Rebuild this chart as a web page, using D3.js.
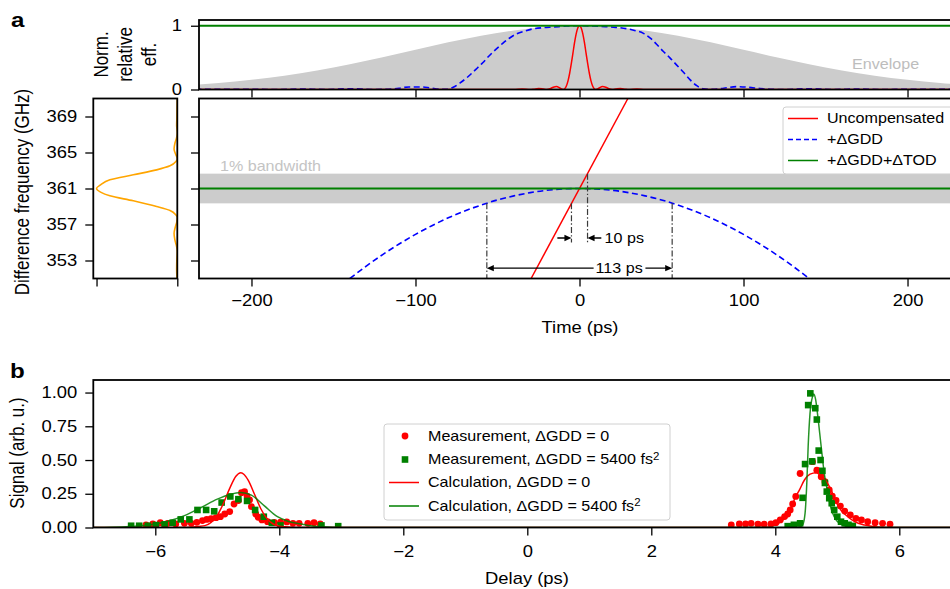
<!DOCTYPE html>
<html><head><meta charset="utf-8">
<script src="https://cdn.jsdelivr.net/npm/d3@7"></script>
<style>body{margin:0;background:#fff}svg{display:block;font-family:"Liberation Sans",Arial,Helvetica,sans-serif}</style>
</head><body><svg id="c" width="950" height="589"></svg>
<script>
// ---------------- DATA ----------------
// Panel a (top): normalized relative efficiency vs time (ps)
const envT = [-240,-220,-200,-180,-160,-140,-120,-100,-80,-60,-40,-20,0,20,40,60,80,100,120,140,160,180,200,220,240];
const envV = [0.066,0.102,0.152,0.217,0.299,0.397,0.507,0.624,0.740,0.844,0.927,0.981,1,0.981,0.927,0.844,0.740,0.624,0.507,0.397,0.299,0.217,0.152,0.102,0.066];
const redTopT = [-240,-40,-35,-30,-28,-25,-22,-20,-18,-16,-14,-12,-10,-9,-8,-7,-6,-5,-4,-3,-2,-1,0,1,2,3,4,5,6,7,8,9,10,12,14,16,18,20,22,25,28,30,35,40,240];
const redTopV = [0,0,0.008,0,0.0045,0.016,0.007,0,0.011,0.036,0.047,0.024,0,0.012,0.055,0.135,0.255,0.405,0.57,0.738,0.876,0.968,1,0.968,0.876,0.738,0.57,0.405,0.255,0.135,0.055,0.012,0,0.024,0.047,0.036,0.011,0,0.007,0.016,0.0045,0,0.008,0,0];
const blueTopT = [-240,-200,-185,-170,-155,-140,-125,-118,-110,-104,-97,-91,-85,-81,-77,-73,-68,-63,-59,-55,-51,-47,-43,-38.6,-33,-28.5,-22,-16,-8,0,8,16,22,28.5,33,39,43,47,51,55,59,63.4,67.5,71.5,75.6,81,88,95.5,103,110,118,125,140,155,170,185,200,240];
const blueTopV = [0,0.004,0,0.008,0,0.012,0,0.003,0.02,0.04,0.04,0.025,0.005,0.003,0.035,0.1,0.2,0.32,0.42,0.53,0.63,0.72,0.8,0.87,0.92,0.95,0.97,0.98,0.995,1,0.995,0.985,0.975,0.955,0.93,0.88,0.81,0.71,0.6,0.5,0.39,0.27,0.15,0.06,0.01,0.002,0.02,0.045,0.035,0.015,0.002,0,0.012,0,0.008,0,0.004,0];
const topYTicks = [0, 1];
const timeTicks = [-200, -100, 0, 100, 200];

// Panel a (main): difference frequency (GHz) vs time (ps)
const freqTicks = [353, 357, 361, 365, 369];
const uncompT = [-29.5, 29.5];
const uncompF = [351, 371];
const gddT = [-140,-130,-120,-110,-100,-90,-80,-70,-60,-50,-40,-30,-20,-10,0,10,20,30,40,50,60,70,80,90,100,110,120,130,140];
const gddF = [351.0,352.38,353.66,354.83,355.9,356.87,357.74,358.5,359.16,359.73,360.18,360.54,360.8,360.95,361,360.95,360.8,360.54,360.18,359.73,359.16,358.5,357.74,356.87,355.9,354.83,353.66,352.38,351.0];
const todT = [-240, 240];
const todF = [361, 361];
const bandF = [359.35, 362.65];
const shortMarkT = [-4.9, 4.9];
const longMarkT = [-56.5, 56.5];

// Panel a (left): spectrum (normalized) vs frequency (GHz)
const specF = [351,352,353,354,354.6,355.3,356,356.7,357.3,357.8,358.07,358.56,359.0,359.63,360.19,360.6,361,361.4,361.96,362.52,363.07,363.52,364.0,364.3,364.8,365.4,366.0,366.6,367.2,368,369,370,371];
const specV = [0.004,0.008,0.006,0,0.01,0.03,0.04,0.025,0.006,0,0.017,0.09,0.256,0.545,0.835,0.95,1,0.95,0.835,0.545,0.256,0.09,0.017,0,0.02,0.04,0.03,0.01,0,0.008,0.005,0.003,0];

// Panel b: signal vs delay (ps)
const measRedD = [-6.15,-6.04,-5.92,-5.8,-5.67,-5.53,-5.42,-5.33,-5.24,-5.17,-5.10,-5.02,-4.95,-4.88,-4.80,-4.73,-4.66,-4.61,-4.56,-4.52,-4.48,-4.45,-4.38,-4.34,-4.28,-4.19,-4.08,-3.98,-3.88,-3.78,-3.68,-3.54,-3.44,-3.34,
  3.29,3.42,3.52,3.61,3.72,3.82,3.93,4.01,4.08,4.15,4.20,4.24,4.28,4.33,4.40,4.60,4.67,4.74,4.80,4.87,4.92,4.98,5.05,5.12,5.21,5.30,5.39,5.49,5.61,5.73,5.85];
const measRedV = [0.02,0.026,0.036,0.031,0.026,0.031,0.031,0.038,0.051,0.06,0.065,0.073,0.08,0.1,0.118,0.174,0.2,0.258,0.265,0.233,0.204,0.154,0.1,0.076,0.056,0.043,0.038,0.04,0.041,0.031,0.031,0.031,0.036,0.026,
  0.019,0.026,0.026,0.031,0.024,0.024,0.026,0.036,0.056,0.081,0.1,0.13,0.174,0.23,0.40,0.488,0.425,0.376,0.339,0.278,0.233,0.2,0.159,0.122,0.093,0.068,0.056,0.043,0.036,0.031,0.024];
const measGreenD = [-6.39,-6.26,-6.12,-5.99,-5.85,-5.72,-5.59,-5.45,-5.32,-5.18,-5.05,-4.93,-4.79,-4.66,-4.52,-4.39,-4.25,-4.12,-3.98,-3.32,-3.05,
  4.2,4.3,4.40,4.44,4.48,4.53,4.565,4.595,4.645,4.67,4.70,4.73,4.76,4.80,4.83,4.87,4.91,4.95,5.0,5.06,5.12,5.18,5.25];
const measGreenV = [0.013,0.013,0.013,0.018,0.023,0.035,0.06,0.06,0.13,0.13,0.12,0.185,0.23,0.21,0.197,0.13,0.08,0.035,0.015,0.015,0.01,
  0.01,0.02,0.031,0.22,0.47,0.907,0.994,0.49,0.884,0.8,0.57,0.5,0.42,0.33,0.266,0.217,0.18,0.13,0.08,0.043,0.031,0.02,0.012];
const calcRedD = [-7,-5.6,-5.4,-5.3,-5.2,-5.1,-5.0,-4.9,-4.8,-4.7,-4.62,-4.5,-4.4,-4.3,-4.2,-4.1,-4.0,-3.9,-3.8,-3.6,
  3.8,3.99,4.09,4.17,4.25,4.33,4.39,4.47,4.56,4.66,4.72,4.79,4.9,4.98,5.06,5.17,5.28,5.44,5.6,5.8,7];
const calcRedV = [0,0,0.004,0.008,0.014,0.038,0.09,0.18,0.29,0.38,0.406,0.35,0.246,0.141,0.066,0.026,0.01,0.005,0.002,0,
  0,0.018,0.043,0.081,0.143,0.23,0.279,0.352,0.395,0.406,0.39,0.364,0.278,0.19,0.128,0.08,0.043,0.018,0.006,0,0];
const calcGreenD = [-7,-6.7,-6.4,-6.07,-5.8,-5.53,-5.26,-5.0,-4.8,-4.62,-4.45,-4.24,-4.03,-3.85,-3.7,-3.53,-3.3,-3.0,
  4.3,4.40,4.44,4.48,4.51,4.53,4.56,4.6,4.62,4.65,4.68,4.74,4.79,4.85,4.9,4.95,5.03,5.11,5.25,5.4,7];
const calcGreenV = [0,0.002,0.008,0.02,0.046,0.088,0.148,0.21,0.245,0.26,0.24,0.16,0.08,0.045,0.03,0.015,0.005,0,
  0,0.005,0.018,0.105,0.35,0.6,0.846,0.97,0.99,0.95,0.846,0.6,0.4,0.252,0.141,0.08,0.031,0.013,0.003,0,0];
const delayTicks = [-6, -4, -2, 0, 2, 4, 6];
const signalTicks = [0, 0.25, 0.5, 0.75, 1.0];

// ---------------- DRAWING ----------------
const svg = d3.select('#c');
const FS = 16;    // tick / axis label size
const FL = 14;    // legend / annotation size
const SX = 1.15;  // horizontal stretch of the reference lettering
const zip = (a, b) => a.map((v, i) => [v, b[i]]);

const xT = d3.scaleLinear().domain([-232, 232]).range([199, 960]);
const yTop = d3.scaleLinear().domain([0, 1.09]).range([89.5, 20]);
const yF = d3.scaleLinear().domain([351, 371]).range([278.5, 98.5]);
const xS = d3.scaleLinear().domain([0, 1.04]).range([177.3, 93.3]);
const xD = d3.scaleLinear().domain([-7, 7]).range([93.3, 961.3]);
const yS = d3.scaleLinear().domain([0, 1.093]).range([527.5, 380]);

const defs = svg.append('defs');
function clip(id, x0, y0, x1, y1) {
  defs.append('clipPath').attr('id', id).append('rect')
    .attr('x', x0).attr('y', y0).attr('width', x1 - x0).attr('height', y1 - y0);
  return svg.append('g').attr('clip-path', `url(#${id})`);
}
function spine(x0, y0, x1, y1) {
  svg.append('rect').attr('x', x0).attr('y', y0).attr('width', x1 - x0).attr('height', y1 - y0)
    .attr('fill', 'none').attr('stroke', '#000').attr('stroke-width', 1.8);
}
function styleAxis(g) {
  g.select('.domain').remove();
  g.selectAll('line').attr('stroke', '#000').attr('stroke-width', 1.3);
  g.selectAll('text').attr('font-size', FS).attr('fill', '#000')
    .attr('font-family', '"Liberation Sans", Arial, sans-serif');
}
function rotLabel(x, y, size, txt) {
  svg.append('text').attr('class', 'rot').attr('transform', `translate(${x},${y}) scale(${SX},1) rotate(-90)`)
    .attr('text-anchor', 'middle').attr('font-size', size).text(txt);
}

// ---- top panel ----
const gTop = clip('cTop', 199, 20, 960, 89.5);
gTop.append('path').datum(zip(envT, envV))
  .attr('d', d3.area().x(d => xT(d[0])).y0(yTop(0)).y1(d => yTop(d[1])).curve(d3.curveMonotoneX))
  .attr('fill', '#cccccc');
gTop.append('text').attr('x', 852).attr('y', 69).attr('font-size', FL).attr('fill', '#bdbdbd').text('Envelope');
gTop.append('path').datum(zip(blueTopT, blueTopV))
  .attr('d', d3.line().x(d => xT(d[0])).y(d => yTop(d[1])).curve(d3.curveMonotoneX))
  .attr('fill', 'none').attr('stroke', '#0000ff').attr('stroke-width', 1.6).attr('stroke-dasharray', '6,3.5');
gTop.append('path').datum(zip(redTopT, redTopV))
  .attr('d', d3.line().x(d => xT(d[0])).y(d => yTop(d[1])).curve(d3.curveMonotoneX))
  .attr('fill', 'none').attr('stroke', '#ff0000').attr('stroke-width', 1.5);
gTop.append('path').datum(zip(todT, [1, 1]))
  .attr('d', d3.line().x(d => xT(d[0])).y(d => yTop(d[1])))
  .attr('fill', 'none').attr('stroke', '#008000').attr('stroke-width', 1.8);
spine(199, 20, 962, 89.5);
svg.append('g').attr('transform', 'translate(199,0)')
  .call(d3.axisLeft(yTop).tickValues(topYTicks).tickFormat(d3.format('d')).tickSize(8).tickPadding(9)).call(styleAxis);
svg.append('g').attr('transform', 'translate(0,89.5)')
  .call(d3.axisBottom(xT).tickValues(timeTicks).tickFormat('').tickSize(8)).call(styleAxis);
[['Norm.', 108.3], ['relative', 132], ['eff.', 155.5]].forEach(r => rotLabel(r[1], 54.5, 17, r[0]));

// ---- main panel a ----
const gMain = clip('cMain', 199, 98.5, 960, 278.5);
gMain.append('rect').attr('x', 199).attr('width', 761)
  .attr('y', yF(bandF[1])).attr('height', yF(bandF[0]) - yF(bandF[1])).attr('fill', '#cccccc');
gMain.append('text').attr('x', 220).attr('y', 171).attr('font-size', FL).attr('fill', '#c4c4c4').text('1% bandwidth');
gMain.append('path').datum(zip(gddT, gddF))
  .attr('d', d3.line().x(d => xT(d[0])).y(d => yF(d[1])).curve(d3.curveMonotoneX))
  .attr('fill', 'none').attr('stroke', '#0000ff').attr('stroke-width', 1.6).attr('stroke-dasharray', '6,3.5');
gMain.append('path').datum(zip(uncompT, uncompF))
  .attr('d', d3.line().x(d => xT(d[0])).y(d => yF(d[1])))
  .attr('fill', 'none').attr('stroke', '#ff0000').attr('stroke-width', 1.5);
gMain.append('path').datum(zip(todT, todF))
  .attr('d', d3.line().x(d => xT(d[0])).y(d => yF(d[1])))
  .attr('fill', 'none').attr('stroke', '#008000').attr('stroke-width', 1.8);
// dash-dot markers
const dd = '6,2.2,1.4,2.2';
function vline(t, f0, f1) {
  gMain.append('line').attr('x1', xT(t)).attr('x2', xT(t)).attr('y1', yF(f0)).attr('y2', yF(f1))
    .attr('stroke', '#3a3a3a').attr('stroke-width', 1.2).attr('stroke-dasharray', dd);
}
vline(shortMarkT[0], bandF[0], 355.0);
vline(shortMarkT[1], bandF[1], 355.0);
vline(longMarkT[0], bandF[0], 351);
vline(longMarkT[1], bandF[0], 351);
function arrow(tFrom, tTo, f) {
  const x1 = xT(tFrom), x2 = xT(tTo), y = yF(f), s = Math.sign(x2 - x1);
  gMain.append('line').attr('x1', x1).attr('x2', x2 - s * 5).attr('y1', y).attr('y2', y)
    .attr('stroke', '#000').attr('stroke-width', 1.3);
  gMain.append('path').attr('d', `M${x2},${y}L${x2 - s * 7},${y - 3.2}L${x2 - s * 7},${y + 3.2}Z`).attr('fill', '#000');
}
arrow(-13.5, shortMarkT[0], 355.5);
arrow(13.3, shortMarkT[1], 355.5);
gMain.append('text').attr('x', xT(15.3)).attr('y', yF(355.5)).attr('dy', '0.35em').attr('font-size', FL).text('10 ps');
arrow(8.6, longMarkT[0], 352.15);
arrow(40.2, longMarkT[1], 352.15);
gMain.append('text').attr('x', xT(24.2)).attr('y', yF(352.15)).attr('dy', '0.35em').attr('text-anchor', 'middle').attr('font-size', FL).text('113 ps');
// legend a
const la = gMain.append('g');
la.append('rect').attr('x', 783).attr('y', 107).attr('width', 220).attr('height', 67).attr('rx', 3)
  .attr('fill', '#fff').attr('fill-opacity', 0.8).attr('stroke', '#d0d0d0').attr('stroke-width', 1);
[['Uncompensated', '#ff0000', null, 118.5], ['+ΔGDD', '#0000ff', '5,3', 139.5], ['+ΔGDD+ΔTOD', '#008000', null, 160.5]].forEach(r => {
  la.append('line').attr('x1', 788).attr('x2', 818).attr('y1', r[3]).attr('y2', r[3]).attr('stroke', r[1])
    .attr('stroke-width', 1.6).attr('stroke-dasharray', r[2]);
  la.append('text').attr('x', 827).attr('y', r[3]).attr('dy', '0.35em').attr('font-size', FL).text(r[0]);
});
spine(199, 98.5, 962, 278.5);
svg.append('g').attr('transform', 'translate(199,0)')
  .call(d3.axisLeft(yF).tickValues(freqTicks).tickFormat('').tickSize(8)).call(styleAxis);
svg.append('g').attr('transform', 'translate(0,278.5)')
  .call(d3.axisBottom(xT).tickValues(timeTicks).tickFormat(d3.format('d')).tickSize(8).tickPadding(8)).call(styleAxis);
svg.append('text').attr('x', 580).attr('y', 333).attr('text-anchor', 'middle').attr('font-size', FS).text('Time (ps)');

// ---- left spectrum panel ----
const gL = clip('cL', 93.3, 98.5, 177.3, 278.5);
gL.append('path').datum(zip(specV, specF))
  .attr('d', d3.line().x(d => xS(d[0])).y(d => yF(d[1])).curve(d3.curveMonotoneY))
  .attr('fill', 'none').attr('stroke', '#ffa500').attr('stroke-width', 1.6);
spine(93.3, 98.5, 177.3, 278.5);
svg.append('g').attr('transform', 'translate(93.3,0)')
  .call(d3.axisLeft(yF).tickValues(freqTicks).tickFormat(d3.format('d')).tickSize(8).tickPadding(8)).call(styleAxis);
svg.append('g').attr('transform', 'translate(0,278.5)')
  .call(d3.axisBottom(xS).tickValues([0, 1]).tickFormat('').tickSize(8)).call(styleAxis);
rotLabel(29, 192, 17, 'Difference frequency (GHz)');

// ---- panel b ----
const gB = clip('cB', 93.3, 380, 961.3, 527.5);
gB.selectAll('circle').data(zip(measRedD, measRedV)).join('circle')
  .attr('cx', d => xD(d[0])).attr('cy', d => yS(d[1])).attr('r', 3.4).attr('fill', '#ff0000');
gB.selectAll('rect.sq').data(zip(measGreenD, measGreenV)).join('rect').attr('class', 'sq')
  .attr('x', d => xD(d[0]) - 3.3).attr('y', d => yS(d[1]) - 3.3).attr('width', 6.6).attr('height', 6.6).attr('fill', '#008000');
gB.append('path').datum(zip(calcRedD, calcRedV))
  .attr('d', d3.line().x(d => xD(d[0])).y(d => yS(d[1])).curve(d3.curveMonotoneX))
  .attr('fill', 'none').attr('stroke', '#ff0000').attr('stroke-width', 1.5);
gB.append('path').datum(zip(calcGreenD, calcGreenV))
  .attr('d', d3.line().x(d => xD(d[0])).y(d => yS(d[1])).curve(d3.curveMonotoneX))
  .attr('fill', 'none').attr('stroke', '#008000').attr('stroke-width', 1.5).attr('stroke-opacity', 0.85);
// legend b
const lb = svg.append('g');
lb.append('rect').attr('x', 384).attr('y', 424).attr('width', 286).attr('height', 96).attr('rx', 3)
  .attr('fill', '#fff').attr('fill-opacity', 0.8).attr('stroke', '#d0d0d0').attr('stroke-width', 1);
const rowsB = [436, 459.5, 482.5, 506];
lb.append('circle').attr('cx', 405).attr('cy', rowsB[0]).attr('r', 3.4).attr('fill', '#ff0000');
lb.append('rect').attr('x', 401.7).attr('y', rowsB[1] - 3.3).attr('width', 6.6).attr('height', 6.6).attr('fill', '#008000');
lb.append('line').attr('x1', 389).attr('x2', 419).attr('y1', rowsB[2]).attr('y2', rowsB[2]).attr('stroke', '#ff0000').attr('stroke-width', 1.5);
lb.append('line').attr('x1', 389).attr('x2', 419).attr('y1', rowsB[3]).attr('y2', rowsB[3]).attr('stroke', '#008000').attr('stroke-width', 1.5);
const labB = [['Measurement, ΔGDD = 0', false], ['Measurement, ΔGDD = 5400 fs', true], ['Calculation, ΔGDD = 0', false], ['Calculation, ΔGDD = 5400 fs', true]];
labB.forEach((l, i) => {
  const t = lb.append('text').attr('x', 428).attr('y', rowsB[i]).attr('dy', '0.35em').attr('font-size', FL).text(l[0]);
  if (l[1]) t.append('tspan').attr('dy', '-0.45em').attr('font-size', 10).text('2');
});
spine(93.3, 380, 962, 527.5);
svg.append('g').attr('transform', 'translate(93.3,0)')
  .call(d3.axisLeft(yS).tickValues(signalTicks).tickFormat(d3.format('.2f')).tickSize(8).tickPadding(8)).call(styleAxis);
svg.append('g').attr('transform', 'translate(0,527.5)')
  .call(d3.axisBottom(xD).tickValues(delayTicks).tickFormat(d3.format('d')).tickSize(8).tickPadding(10)).call(styleAxis);
svg.append('text').attr('x', 527).attr('y', 584).attr('text-anchor', 'middle').attr('font-size', FS).text('Delay (ps)');
rotLabel(24, 453, 17, 'Signal (arb. u.)');

// panel letters
svg.append('text').attr('x', 11).attr('y', 27).attr('font-size', 21).attr('font-weight', 'bold').text('a');
svg.append('text').attr('x', 10).attr('y', 378).attr('font-size', 21).attr('font-weight', 'bold').text('b');

// horizontal stretch of lettering about each text's own anchor
svg.selectAll('text').filter(function () { return !this.classList.contains('rot'); }).each(function () {
  const t = d3.select(this);
  const x = +t.attr('x') || 0, y = +t.attr('y') || 0;
  t.attr('transform', `translate(${x},${y}) scale(${SX},1) translate(${-x},${-y})`);
});
</script></body></html>
